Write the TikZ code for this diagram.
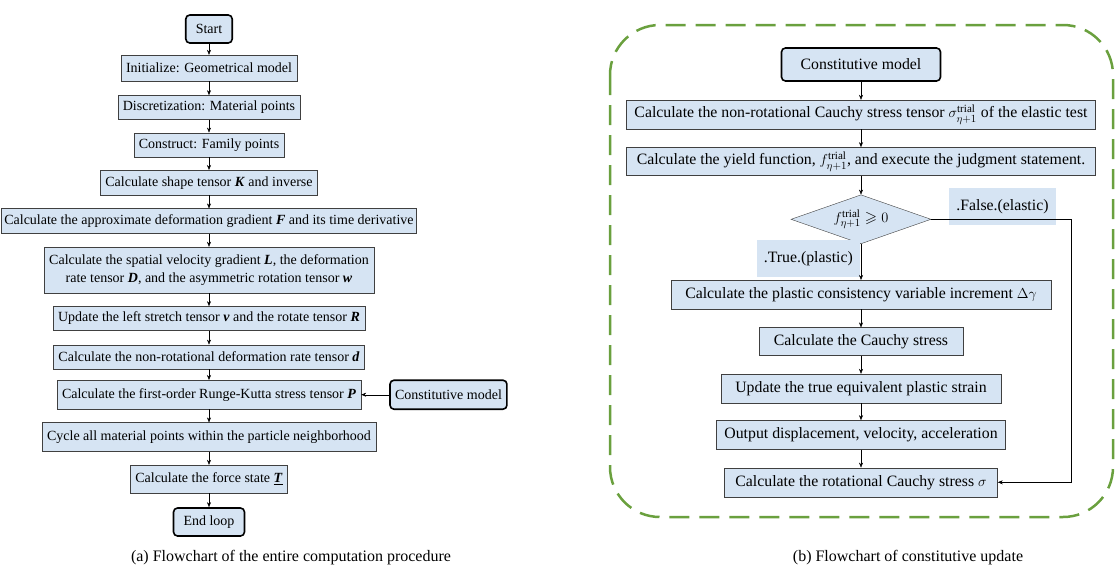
\documentclass[tikz,border=0pt]{standalone}
\usepackage{amsmath,amssymb}
\usepackage{fontspec}
\setmainfont{Liberation Serif}
\usetikzlibrary{arrows.meta,positioning,shapes.geometric}
\definecolor{boxblue}{RGB}{214,228,243}
\definecolor{framegreen}{RGB}{106,160,62}
\newcommand{\tb}[1]{\textbf{\textit{#1}}}

\begin{document}
\begin{tikzpicture}[x=1pt, y=1pt, >={Stealth[length=5pt,width=4pt]},
  every node/.style={font=\fontsize{14}{18}\selectfont},
  proc/.style={draw=black!75, fill=boxblue, minimum height=25pt,
    inner xsep=5pt, inner ysep=2pt},
  term/.style={draw, line width=1.6pt, rounded corners=4pt, fill=boxblue,
    minimum height=28pt, inner xsep=10pt},
  tag/.style={fill=boxblue, minimum height=37pt, inner xsep=7pt},
  judge/.style={diamond, draw=black!75, fill=boxblue, aspect=2.86,
    inner sep=0pt, minimum width=140pt, minimum height=49pt},
  big/.style={font=\fontsize{15.8}{19}\selectfont},
  figcap/.style={font=\fontsize{16}{19}\selectfont}]
\useasboundingbox (0,0) rectangle (1116,-573);

% (a) entire computation procedure
\begin{scope}[node distance=13pt]
  \node[term] (start) at (209,-29) {Start};
  \node[proc, below=11pt of start, minimum height=26pt] (init)
    {Initialize: Geometrical model};
  \node[proc, below=14pt of init, minimum height=24pt] (disc)
    {Discretization: Material points};
  \node[proc, below=of disc, minimum height=24pt] (fam) {Construct: Family points};
  \node[proc, below=of fam] (shape) {Calculate shape tensor \tb{K} and inverse};
  \node[proc, below=of shape, inner xsep=3pt] (grad)
    {Calculate the approximate deformation gradient \tb{F} and its time derivative};
  \node[proc, below=of grad, align=center, minimum height=46pt] (vel)
    {Calculate the spatial velocity gradient \tb{L}, the deformation\\
     rate tensor \tb{D}, and the asymmetric rotation tensor \tb{w}};
  \node[proc, below=of vel, minimum height=24pt, minimum width=311pt] (stretch)
    {Update the left stretch tensor \tb{v} and the rotate tensor \tb{R}};
  \node[proc, below=14pt of stretch, minimum height=24pt, minimum width=311pt] (rate)
    {Calculate the non-rotational deformation rate tensor \tb{d}};
  \node[proc, below=11pt of rate, minimum height=29pt] (rk)
    {Calculate the first-order Runge-Kutta stress tensor \tb{P}};
  \node[term, right=28pt of rk, minimum height=29pt, inner xsep=5pt] (cmodel)
    {Constitutive model};
  \node[proc, below=of rk, minimum height=29pt] (cycle)
    {Cycle all material points within the particle neighborhood};
  \node[proc, below=of cycle, minimum height=28pt] (force)
    {Calculate the force state \underline{\tb{T}}};
  \node[term, below=14pt of force] (endl) {End loop};
\end{scope}

\draw[->] (start) -- (init);
\draw[->] (init) -- (disc);
\draw[->] (disc) -- (fam);
\draw[->] (fam) -- (shape);
\draw[->] (shape) -- (grad);
\draw[->] (grad) -- (vel);
\draw[->] (vel) -- (stretch);
\draw[->] (stretch) -- (rate);
\draw[->] (rate) -- (rk);
\draw[->] (rk) -- (cycle);
\draw[->] (cycle) -- (force);
\draw[->] (force) -- (endl);
\draw[->] (cmodel) -- (rk);

\node[figcap] (capa) at (291,-558) {(a) Flowchart of the entire computation procedure};

% (b) constitutive update
\draw[framegreen, line width=2.5pt, dash pattern=on 20pt off 10pt,
  rounded corners=50pt] (610,-25) rectangle (1113,-517);

\begin{scope}[node distance=18pt, every node/.append style={big}]
  \node[term, minimum height=33pt, minimum width=159pt] (cm) at (861,-64.5)
    {Constitutive model};
  \node[proc, below=of cm, minimum height=29pt, minimum width=469pt,
    inner xsep=3pt] (trial)
    {Calculate the non-rotational Cauchy stress tensor
     $\sigma^{\mathrm{trial}}_{\eta+1}$ of the elastic test};
  \node[proc, below=of trial, minimum height=28pt, minimum width=469pt,
    inner xsep=3pt] (yield)
    {Calculate the yield function, $f^{\mathrm{trial}}_{\eta+1}$,
     and execute the judgment statement.};
  \node[judge, below=19pt of yield] (dia)
    {$f^{\mathrm{trial}}_{\eta+1}\geqslant 0$};
  \node[proc, below=36pt of dia, minimum height=29pt, inner xsep=14pt] (incr)
    {Calculate the plastic consistency variable increment $\Delta\gamma$};
  \node[proc, below=of incr, minimum height=28pt, inner xsep=15pt] (cauchy)
    {Calculate the Cauchy stress};
  \node[proc, below=of cauchy, minimum height=29pt, inner xsep=14pt] (peeq)
    {Update the true equivalent plastic strain};
  \node[proc, below=17pt of peeq, minimum height=29pt, inner xsep=8pt] (out)
    {Output displacement, velocity, acceleration};
  \node[proc, below=of out, minimum height=29pt, inner xsep=11pt] (rot)
    {Calculate the rotational Cauchy stress $\sigma$};
\end{scope}

\node[tag, big, anchor=south west] (flab) at ([shift={(18,-6)}]dia.east)
  {.False.(elastic)};
\node[tag, big, anchor=north east] (tlab) at ([shift={(-1,4)}]dia.south)
  {.True.(plastic)};

\draw[->] (cm) -- (trial);
\draw[->] (trial) -- (yield);
\draw[->] (yield) -- (dia);
\draw[->] (dia) -- (incr);
\draw[->] (incr) -- (cauchy);
\draw[->] (cauchy) -- (peeq);
\draw[->] (peeq) -- (out);
\draw[->] (out) -- (rot);
\draw[->] (dia.east) -- ++(140,0) |- (rot.east);

\node[figcap] (capb) at (908,-558) {(b) Flowchart of constitutive update};
\end{tikzpicture}
\end{document}
